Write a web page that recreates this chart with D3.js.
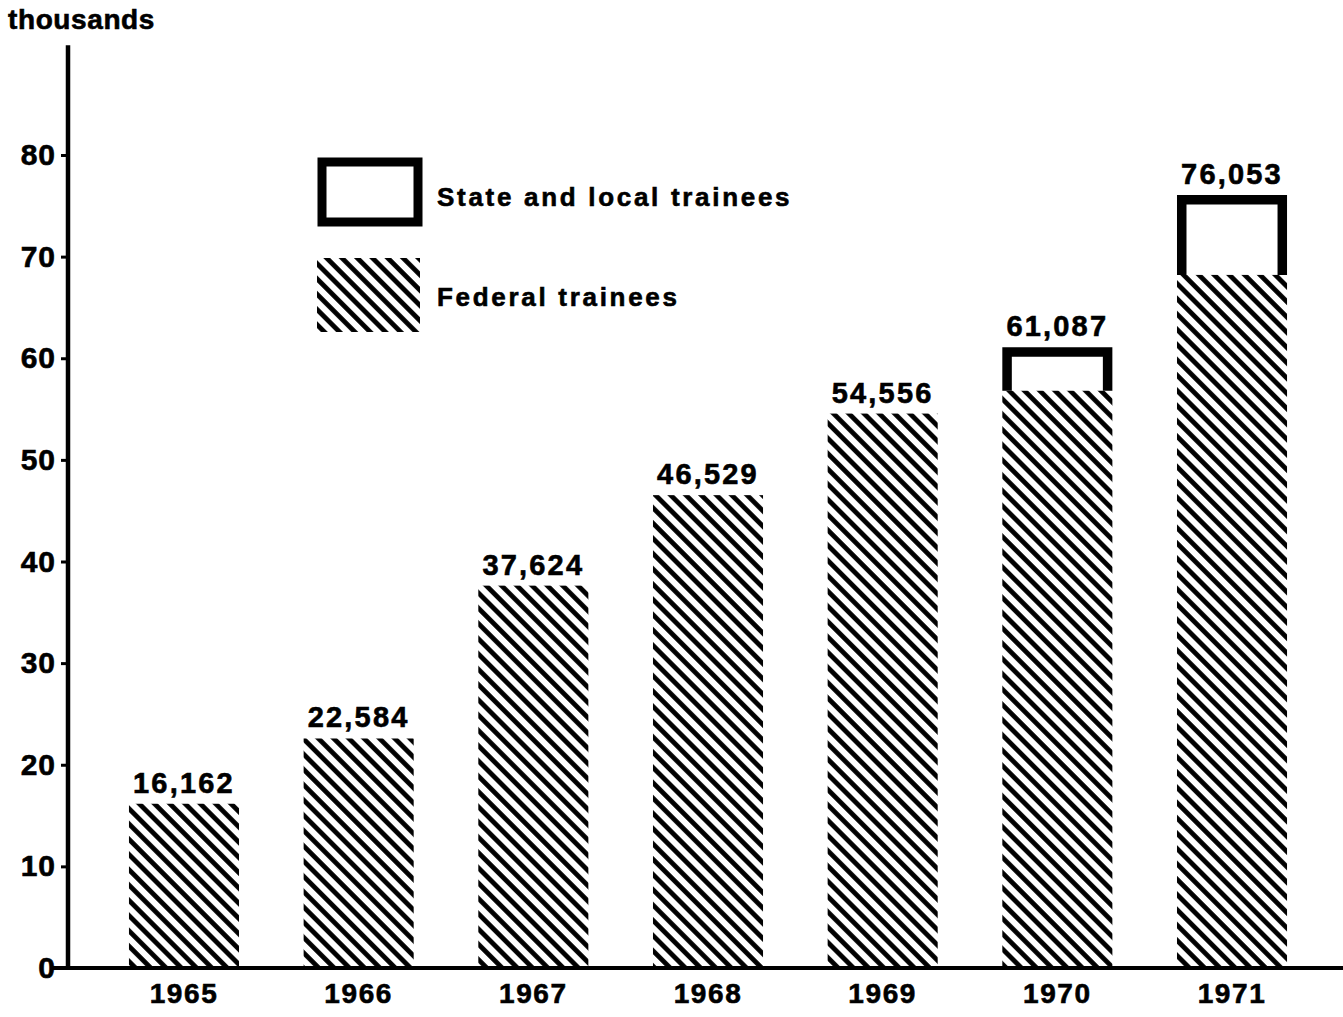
<!DOCTYPE html>
<html>
<head>
<meta charset="utf-8">
<script src="https://cdn.jsdelivr.net/npm/d3@7"></script>
<style>
  html, body { margin: 0; padding: 0; background: #fff; }
  svg { display: block; }
  text { font-family: "Liberation Sans", Arial, Helvetica, sans-serif; font-weight: bold; fill: #000; stroke: #000; stroke-width: 0.6px; }
</style>
</head>
<body>
<svg id="chart" width="1343" height="1017"></svg>
<script>
// Trainees by year (thousands)
const years = ["1965", "1966", "1967", "1968", "1969", "1970", "1971"];
const totals = [16.162, 22.584, 37.624, 46.529, 54.556, 61.087, 76.053];
const federal = [16.162, 22.584, 37.624, 46.529, 54.556, 56.8, 68.2];
const totalLabels = ["16,162", "22,584", "37,624", "46,529", "54,556", "61,087", "76,053"];
const yTicks = [0, 10, 20, 30, 40, 50, 60, 70, 80];
const legendLabels = ["State and local trainees", "Federal trainees"];

const svg = d3.select("#chart");

const x = d3.scaleBand()
  .domain(years)
  .range([96.65, 1319.35])
  .paddingInner(0.37)
  .paddingOuter(0.185);

const y = d3.scaleLinear().domain([0, 80]).range([968, 155]);

// Diagonal hatch for federal trainees
const defs = svg.append("defs");
const pat = defs.append("pattern")
  .attr("id", "hatch")
  .attr("patternUnits", "userSpaceOnUse")
  .attr("width", 10.8)
  .attr("height", 10.8)
  .attr("patternTransform", "rotate(-45)");
pat.append("line")
  .attr("x1", 5.4).attr("y1", -1)
  .attr("x2", 5.4).attr("y2", 12)
  .attr("stroke", "#000")
  .attr("stroke-width", 4.8);

// "thousands" unit label
svg.append("text")
  .attr("x", 8).attr("y", 29)
  .attr("font-size", 28)
  .attr("letter-spacing", 0.6)
  .text("thousands");

// Y axis
const yAxis = svg.append("g")
  .attr("transform", "translate(68,0)")
  .call(d3.axisLeft(y).tickValues(yTicks).tickSize(7).tickPadding(5).tickFormat(d3.format("d")));
yAxis.select(".domain").remove();
yAxis.selectAll(".tick line").attr("stroke", "#000").attr("stroke-width", 3);
yAxis.selectAll(".tick text")
  .attr("font-size", 30)
  .attr("letter-spacing", 1)
  .attr("font-family", "Liberation Sans, Arial, sans-serif")
  .attr("font-weight", "bold")
  .attr("fill", "#000");
svg.append("line")
  .attr("x1", 68).attr("x2", 68)
  .attr("y1", y(90.8)).attr("y2", y(0) + 2)
  .attr("stroke", "#000").attr("stroke-width", 4.5);

// Federal bars (hatched)
const data = years.map((yr, i) => ({ yr, total: totals[i], fed: federal[i], label: totalLabels[i] }));

svg.append("g").selectAll("rect")
  .data(data)
  .join("rect")
  .attr("x", d => x(d.yr))
  .attr("y", d => y(d.fed))
  .attr("width", x.bandwidth())
  .attr("height", d => y(0) - y(d.fed))
  .attr("fill", "url(#hatch)");

// State and local portion: heavy open outline on top of the federal bar
const sw = 9.5;
svg.append("g").selectAll("path")
  .data(data.filter(d => d.total - d.fed > 0.01))
  .join("path")
  .attr("d", d => {
    const x0 = x(d.yr) + sw / 2, x1 = x(d.yr) + x.bandwidth() - sw / 2;
    const yt = y(d.total) + sw / 2, yb = y(d.fed);
    return `M${x0},${yb}L${x0},${yt}L${x1},${yt}L${x1},${yb}`;
  })
  .attr("fill", "none")
  .attr("stroke", "#000")
  .attr("stroke-width", sw)
  .attr("stroke-linejoin", "miter");

// Total value labels
svg.append("g").selectAll("text")
  .data(data)
  .join("text")
  .attr("x", d => x(d.yr) + x.bandwidth() / 2)
  .attr("y", d => y(d.total) - 11)
  .attr("text-anchor", "middle")
  .attr("font-size", 29)
  .attr("letter-spacing", 2.2)
  .text(d => d.label);

// X axis
svg.append("line")
  .attr("x1", 52).attr("x2", 1343)
  .attr("y1", y(0)).attr("y2", y(0))
  .attr("stroke", "#000").attr("stroke-width", 4);
const xAxis = svg.append("g")
  .attr("transform", `translate(0,${y(0)})`)
  .call(d3.axisBottom(x).tickSize(0).tickPadding(15));
xAxis.select(".domain").remove();
xAxis.selectAll(".tick text")
  .attr("font-size", 28)
  .attr("letter-spacing", 1.6)
  .attr("font-family", "Liberation Sans, Arial, sans-serif")
  .attr("font-weight", "bold")
  .attr("fill", "#000");

// Legend
const legend = svg.append("g");
legend.append("rect")
  .attr("x", 322).attr("y", 162)
  .attr("width", 96).attr("height", 60)
  .attr("fill", "none").attr("stroke", "#000").attr("stroke-width", 9);
legend.append("rect")
  .attr("x", 317).attr("y", 258)
  .attr("width", 103).attr("height", 74)
  .attr("fill", "url(#hatch)");
legend.selectAll("text.lg")
  .data(legendLabels)
  .join("text")
  .attr("class", "lg")
  .attr("x", 437)
  .attr("y", (d, i) => 206 + i * 100)
  .attr("font-size", 26)
  .attr("letter-spacing", 2.7)
  .text(d => d);
</script>
</body>
</html>
